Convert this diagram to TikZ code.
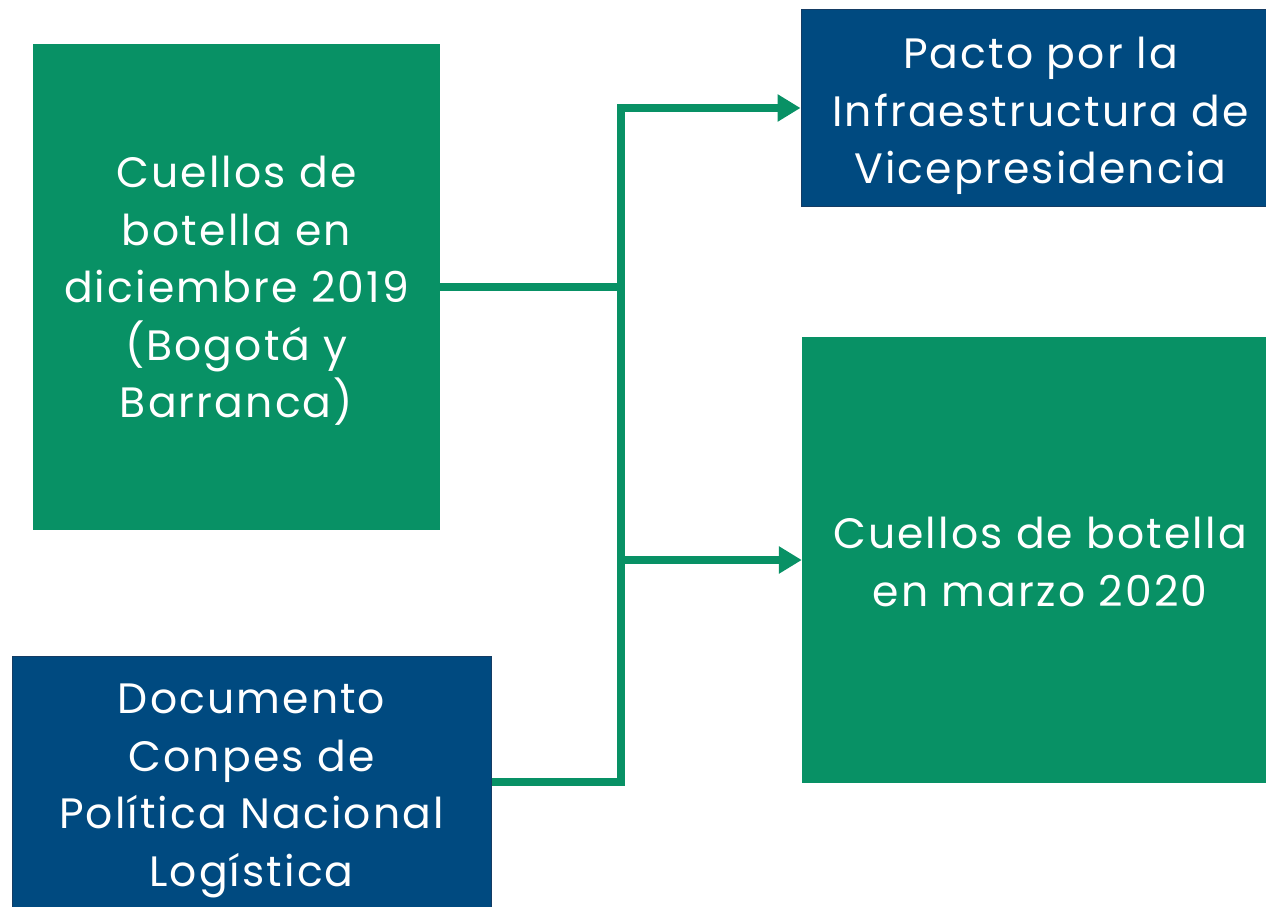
\documentclass[tikz,border=0pt]{standalone}
\usepackage{fontspec}
\setmainfont{Poppins}[LetterSpace=5]
\usetikzlibrary{arrows.meta}
\definecolor{bgreen}{RGB}{8,145,101}
\definecolor{dblue}{RGB}{0,74,128}
\definecolor{dblueb}{RGB}{20,60,100}
\tikzset{
  x=1pt, y=-1pt,
  box/.style={rectangle, inner sep=0pt},
  gbox/.style={box, fill=bgreen},
  bbox/.style={box, fill=dblue, draw=dblueb, line width=1pt},
  txt/.style={inner sep=0pt, text=white, align=center,
    font=\fontsize{42.5}{57.5}\selectfont},
  conn/.style={draw=bgreen, line width=8pt, line join=miter},
  arr/.style={conn, -{Triangle[length=23pt,width=26pt]}}
}
\begin{document}
\begin{tikzpicture}
\useasboundingbox (0,0) rectangle (1266,907);
\node[gbox, minimum width=407pt, minimum height=486pt] (A) at (236.5,287) {};
\node[bbox, minimum width=479pt, minimum height=252pt] (D) at (251.5,782) {};
\node[bbox, minimum width=465pt, minimum height=196pt] (P) at (1033.5,108) {};
\node[gbox, minimum width=464pt, minimum height=446pt] (C) at (1034,560) {};
\node[txt, yshift=-4pt] (At) at (A.center)
  {Cuellos de\\botella en\\diciembre 2019\\(Bogotá y\\Barranca)};
\node[txt, yshift=-9pt] (Dt) at (D.center)
  {Documento\\Conpes de\\Política Nacional\\Logística};
\node[txt, yshift=-8pt, xshift=7pt] (Pt) at (P.center)
  {Pacto por la\\Infraestructura de\\Vicepresidencia};
\node[txt, yshift=-2pt, xshift=6pt] (Ct) at (C.center)
  {Cuellos de botella\\en marzo 2020};
\coordinate (j) at (621,108);
\draw[conn] (A.east) -- (A.east -| j);
\draw[arr] (D.east) -| (j) -- (P.west);
\draw[arr] (C.west -| j) -- (C.west);
\end{tikzpicture}
\end{document}
